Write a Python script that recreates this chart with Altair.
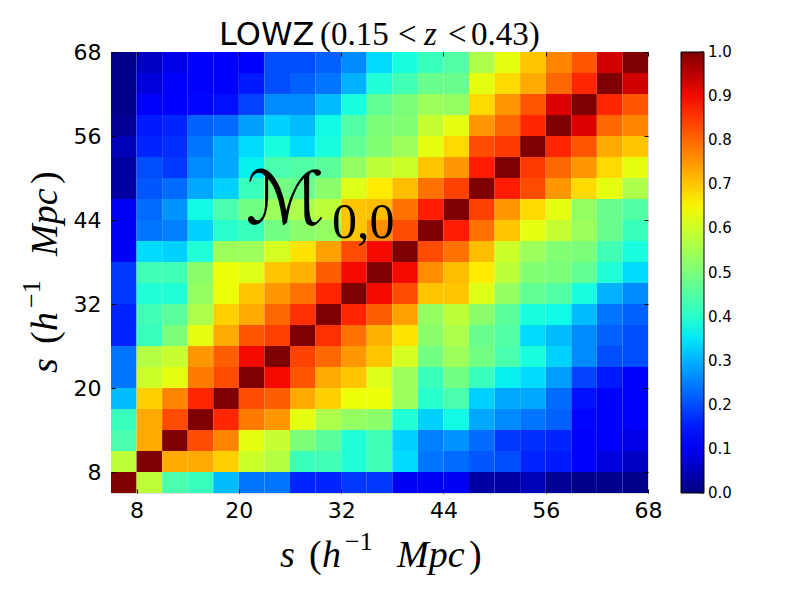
import altair as alt
import pandas as pd

# upper triangle of the symmetric matrix, each row starts on the diagonal (row 0 = bottom)
r00 = [1.0, .58, .44, .42, .31, .24, .24, .16, .16, .18, .18, .10, .10, .10, .03, .03, .05, .02, .01, .01, .01]
r01 = [1.0, .73, .73, .69, .60, .57, .42, .43, .39, .43, .34, .24, .23, .21, .20, .16, .15, .12, .08, .06]
r02 = [1.0, .83, .77, .63, .59, .50, .46, .39, .43, .33, .25, .27, .23, .18, .17, .16, .12, .11, .09]
r03 = [1.0, .87, .78, .75, .63, .56, .53, .52, .39, .33, .37, .29, .26, .24, .22, .13, .12, .11]
r04 = [1.0, .83, .81, .73, .69, .64, .64, .54, .40, .44, .33, .29, .29, .23, .14, .12, .12]
r05 = [1.0, .90, .82, .73, .70, .62, .54, .42, .49, .42, .36, .34, .28, .19, .15, .12]
r06 = [1.0, .84, .80, .75, .70, .61, .49, .54, .49, .44, .38, .33, .26, .20, .20]
r07 = [1.0, .86, .79, .72, .67, .52, .56, .48, .45, .34, .31, .26, .22, .20]
r08 = [1.0, .87, .81, .74, .53, .58, .52, .46, .38, .37, .31, .24, .22]
r09 = [1.0, .90, .83, .70, .70, .62, .53, .47, .45, .38, .30, .26]
r10 = [1.0, .90, .76, .71, .66, .58, .51, .50, .47, .39, .34]
r11 = [1.0, .83, .79, .71, .60, .54, .51, .50, .43, .38]
r12 = [1.0, .88, .79, .70, .63, .59, .54, .48, .42]
r13 = [1.0, .84, .75, .68, .63, .53, .48, .45]
r14 = [1.0, .88, .83, .75, .68, .63, .56]
r15 = [1.0, .85, .80, .75, .68, .63]
r16 = [1.0, .87, .82, .73, .70]
r17 = [1.0, .92, .80, .77]
r18 = [1.0, .87, .82]
r19 = [1.0, .93]
r20 = [1.0]
upper = [r00, r01, r02, r03, r04, r05, r06, r07, r08, r09, r10,
         r11, r12, r13, r14, r15, r16, r17, r18, r19, r20]

s_ticks = [8, 20, 32, 44, 56, 68]
bar_ticks = [0.0, 0.1, 0.2, 0.3, 0.4, 0.5, 0.6, 0.7, 0.8, 0.9, 1.0]
jet_stops = [0, .11, .125, .34, .35, .375, .64, .65, .66, .89, .91, 1]
jet_colors = ["#00007f", "#0000ff", "#0000ff", "#00dbff", "#00e6f7", "#14ffe2",
              "#eeff08", "#f7f500", "#ffec00", "#ff1300", "#e80000", "#7f0000"]

S0, STEP = 5, 3
rows = []
for i, row in enumerate(upper):
    for k, v in enumerate(row):
        j = i + k
        rows.append(dict(x=S0 + STEP * j, x2=S0 + STEP * (j + 1), y=S0 + STEP * i, y2=S0 + STEP * (i + 1), v=v))
        if j != i:
            rows.append(dict(x=S0 + STEP * i, x2=S0 + STEP * (i + 1), y=S0 + STEP * j, y2=S0 + STEP * (j + 1), v=v))
df = pd.DataFrame(rows)

W, H = 537, 441
xs = alt.Scale(domain=[5, 68], nice=False, zero=False)
ys = alt.Scale(domain=[5, 68], nice=False, zero=False)
cs = alt.Scale(domain=jet_stops, range=jet_colors, clamp=True, interpolate="rgb")
FONT = "DejaVu Sans"
SERIF = "Liberation Serif"

main = alt.Chart(df).mark_rect(stroke=None).encode(
    x=alt.X("x:Q", scale=xs, axis=alt.Axis(
        title=None, values=s_ticks, orient="bottom", offset=-4, tickSize=4, tickColor="black",
        domain=False, grid=False, labelFont=FONT, labelFontSize=22, labelColor="black", labelPadding=7,
        labelFlush=False, labelOverlap=False, zindex=1)),
    x2="x2:Q",
    y=alt.Y("y:Q", scale=ys, axis=alt.Axis(
        title=None, values=s_ticks, orient="left", offset=-4, tickSize=4, tickColor="black",
        domain=False, grid=False, labelFont=FONT, labelFontSize=22, labelColor="black", labelPadding=10,
        labelFlush=False, labelOverlap=False, zindex=1)),
    y2="y2:Q",
    color=alt.Color("v:Q", scale=cs, legend=alt.Legend(
        title=None, orient="none", legendX=570, legendY=0, gradientLength=H, gradientThickness=23,
        values=bar_ticks, labelExpr="''", labelFont=FONT, labelFontSize=14, labelColor="transparent",
        labelOffset=5, gradientStrokeColor="black", gradientStrokeWidth=1, labelOverlap=False)),
)

# opposite axes, same scales
opp = alt.Chart(df).mark_rect(opacity=0).encode(
    x=alt.X("x:Q", scale=xs, axis=alt.Axis(title=None, values=s_ticks, orient="top", offset=-4, tickSize=4,
                                           tickColor="black", domain=False, grid=False, labels=False, zindex=1)),
    x2="x2:Q",
    y=alt.Y("y:Q", scale=ys, axis=alt.Axis(title=None, values=s_ticks, orient="right", offset=-4, tickSize=4,
                                           tickColor="black", domain=False, grid=False, labels=False, zindex=1)),
    y2="y2:Q",
)

# colour bar ticks and labels, placed along the bar's height
bar_df = pd.DataFrame({"pos": [5 + 63 * t for t in bar_ticks], "lab": [f"{t:.1f}" for t in bar_ticks]})
bar_rules = alt.Chart(bar_df).mark_rule(color="black", strokeWidth=0.8).encode(
    y=alt.Y("pos:Q", scale=ys, axis=None), x=alt.value(589), x2=alt.value(593))
bar_labels = alt.Chart(bar_df).mark_text(font=FONT, fontSize=15, align="left", baseline="middle", color="black").encode(
    y=alt.Y("pos:Q", scale=ys, axis=None), x=alt.value(597), text="lab:N")


def label(text, x, y, size, font=SERIF, style="normal", angle=0):
    return alt.Chart(pd.DataFrame({"t": [text]})).mark_text(
        font=font, fontSize=size, fontStyle=style, align="left", baseline="alphabetic", color="black", angle=angle
    ).encode(x=alt.value(x), y=alt.value(y), text="t:N")


# pieces of the axis title: text, offset along the axis, italic, superscript
title_parts = [("s", 0, "italic", False), ("(", 29, "normal", False), ("h", 42, "italic", False),
               ("−1", 65, "normal", True), ("Mpc", 117, "italic", False), (")", 189, "normal", False)]
x_title = [label(t, 169 + d, 498 if sup else 515, 26 if sup else 38, style=st) for t, d, st, sup in title_parts]
y_title = [label(t, -71 if sup else -54, 321 - d, 26 if sup else 38, style=st, angle=270) for t, d, st, sup in title_parts]

texts = [
    label("LOWZ", 108, -7, 32, font=FONT),
    label("(0.15", 209, -7, 33),
    label("<", 287, -7, 33),
    label("z", 313, -7, 33, style="italic"),
    label("<", 337, -7, 33),
    label("0.43)", 360, -7, 33),
    label("ℳ", 135, 172, 74, font=FONT, style="italic"),
    label("0,0", 221, 186, 50),
] + x_title + y_title

chart = alt.layer(main, opp, bar_rules, bar_labels, *texts).resolve_axis(x="independent", y="independent").properties(
    width=W, height=H,
    padding={"left": 103, "top": 44, "right": 141, "bottom": 98},
    autosize=alt.AutoSizeParams(type="none"),
).configure_view(stroke="black", strokeWidth=1).configure(background="white")

chart.save("out.html", embed_options={"renderer": "svg", "actions": False})
